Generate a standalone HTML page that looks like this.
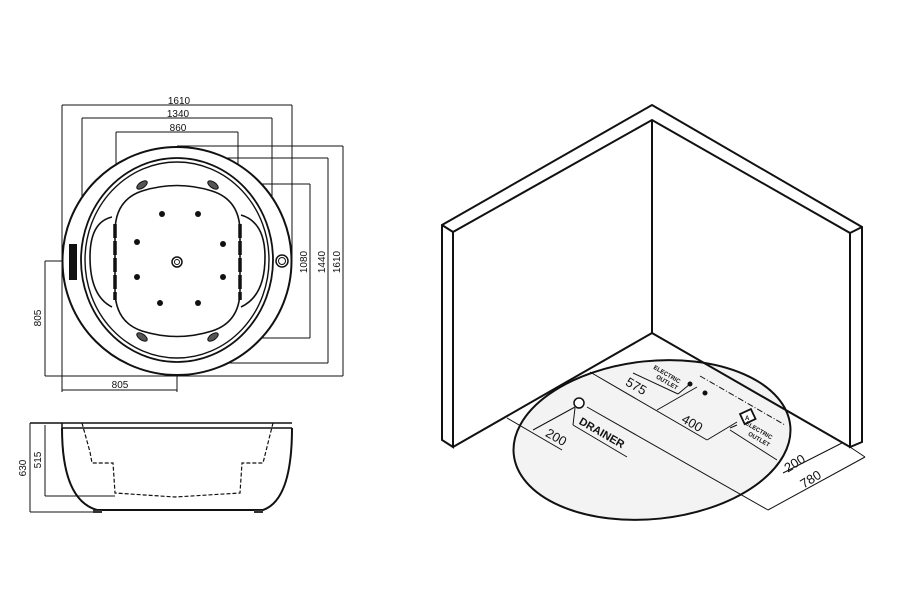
<!DOCTYPE html>
<html><head><meta charset="utf-8"><style>
html,body{margin:0;padding:0;background:#fff;}
svg{display:block}
text{font-family:"Liberation Sans",sans-serif;fill:#111;}
</style></head><body>
<svg width="900" height="600" viewBox="0 0 900 600" xmlns="http://www.w3.org/2000/svg">
<rect width="900" height="600" fill="#fff"/>

<!-- ===== TOP VIEW ===== -->
<g fill="none" stroke="#111" stroke-width="1">
  <line x1="62" y1="105" x2="292" y2="105"/>
  <line x1="62" y1="105" x2="62" y2="392"/>
  <line x1="292" y1="105" x2="292" y2="258"/>
  <line x1="82" y1="118" x2="272" y2="118"/>
  <line x1="82" y1="118" x2="82" y2="250"/>
  <line x1="272" y1="118" x2="272" y2="250"/>
  <line x1="116" y1="132" x2="238" y2="132"/>
  <line x1="116" y1="132" x2="116" y2="220"/>
  <line x1="238" y1="132" x2="238" y2="220"/>

  <line x1="177" y1="146" x2="343" y2="146"/>
  <line x1="343" y1="146" x2="343" y2="376"/>
  <line x1="210" y1="158" x2="328" y2="158"/>
  <line x1="328" y1="158" x2="328" y2="363"/>
  <line x1="210" y1="184" x2="310" y2="184"/>
  <line x1="310" y1="184" x2="310" y2="338"/>
  <line x1="210" y1="338" x2="310" y2="338"/>
  <line x1="200" y1="363" x2="328" y2="363"/>
  <line x1="45" y1="376" x2="343" y2="376"/>

  <line x1="45" y1="261" x2="177" y2="261"/>
  <line x1="45" y1="261" x2="45" y2="376"/>
  <line x1="62" y1="390" x2="177" y2="390"/>
  <line x1="177" y1="261" x2="177" y2="392"/>
</g>
<g fill="none" stroke="#111">
  <ellipse cx="177" cy="261" rx="114.5" ry="114" stroke-width="2" fill="#fff"/>
  <ellipse cx="177" cy="260" rx="96" ry="102" stroke-width="1.8"/>
  <ellipse cx="177" cy="260" rx="92" ry="98" stroke-width="1.4"/>
  <path d="M115,232 Q115,200 142,191 Q177,180 212,191 Q240,200 240,232 L240,290 Q240,322 212,331 Q177,342 142,331 Q115,322 115,290 Z" stroke-width="1.6" fill="#fff"/>
  <path d="M112,217 Q90,222 90,257 Q90,296 112,307" stroke-width="1.6"/>
  <path d="M241,215 Q265,222 265,257 Q265,296 241,307" stroke-width="1.6"/>
  <line x1="115" y1="224" x2="115" y2="300" stroke-width="3.5" stroke-dasharray="14,3"/>
  <line x1="240" y1="224" x2="240" y2="300" stroke-width="3.5" stroke-dasharray="14,3"/>
  <circle cx="177" cy="262" r="5" stroke-width="1.5" fill="#fff"/>
  <circle cx="177" cy="262" r="2.5" stroke-width="1"/>
  <circle cx="282" cy="261" r="6" stroke-width="1.5" fill="#fff"/>
  <circle cx="282" cy="261" r="3.5" stroke-width="1"/>
</g>
<rect x="69" y="244" width="8" height="36" fill="#111"/>
<g fill="#111">
  <circle cx="162" cy="214" r="3"/><circle cx="198" cy="214" r="3"/>
  <circle cx="137" cy="242" r="3"/><circle cx="223" cy="244" r="3"/>
  <circle cx="137" cy="277" r="3"/><circle cx="223" cy="277" r="3"/>
  <circle cx="160" cy="303" r="3"/><circle cx="198" cy="303" r="3"/>
</g>
<g fill="#555" stroke="#111" stroke-width="1">
  <ellipse cx="142" cy="185" rx="6" ry="3" transform="rotate(-35 142 185)"/>
  <ellipse cx="213" cy="185" rx="6" ry="3" transform="rotate(35 213 185)"/>
  <ellipse cx="142" cy="337" rx="6" ry="3" transform="rotate(35 142 337)"/>
  <ellipse cx="213" cy="337" rx="6" ry="3" transform="rotate(-35 213 337)"/>
</g>
<g font-size="10" text-anchor="middle">
  <text x="179" y="104">1610</text>
  <text x="178" y="117">1340</text>
  <text x="178" y="131">860</text>
  <text x="120" y="388">805</text>
  <text transform="translate(41,318) rotate(-90)">805</text>
  <text transform="translate(307,262) rotate(-90)">1080</text>
  <text transform="translate(325,262) rotate(-90)">1440</text>
  <text transform="translate(340,262) rotate(-90)">1610</text>
</g>

<!-- ===== SIDE VIEW ===== -->
<g fill="none" stroke="#111">
  <line x1="30" y1="423" x2="292" y2="423" stroke-width="1.5"/>
  <line x1="62" y1="428" x2="292" y2="428" stroke-width="1.5"/>
  <line x1="62" y1="423" x2="62" y2="428" stroke-width="1.5"/>
  <path d="M62,428 Q62,500 97,510 L263,510 Q292,500 292,428" stroke-width="2"/>
  <path d="M82,423 L90,452 L92,463 L113,463 L115,493 L175,497 L240,493 L242,463 L263,463 L267,447 L273,423" stroke-width="1.2" stroke-dasharray="4,2"/>
  <line x1="30" y1="423" x2="30" y2="512" stroke-width="1"/>
  <line x1="30" y1="512" x2="100" y2="512" stroke-width="1"/>
  <line x1="45" y1="425" x2="45" y2="496" stroke-width="1"/>
  <line x1="45" y1="496" x2="115" y2="496" stroke-width="1"/>
</g>
<rect x="93" y="510" width="9" height="3" fill="#333"/>
<rect x="254" y="510" width="9" height="3" fill="#333"/>
<g font-size="10" text-anchor="middle">
  <text transform="translate(26,468) rotate(-90)">630</text>
  <text transform="translate(41,460) rotate(-90)">515</text>
</g>

<!-- ===== ISOMETRIC ROOM ===== -->
<g fill="none" stroke="#111" stroke-width="2" stroke-linejoin="miter">
  <path d="M442,225 L652,105 L862,227 L862,442 L850,447 L850,233 L652,120 L453,232 L453,447 L442,440 Z" fill="#fff"/>
  <line x1="442" y1="225" x2="453" y2="232"/>
  <line x1="862" y1="227" x2="850" y2="233"/>
  <line x1="652" y1="120" x2="652" y2="333"/>
</g>
<ellipse cx="652" cy="440" rx="139" ry="79" transform="rotate(-6 652 440)" fill="#f3f3f3" stroke="#111" stroke-width="2"/>
<g fill="none" stroke="#111" stroke-width="2">
  <line x1="453" y1="447" x2="652" y2="333"/>
  <line x1="652" y1="333" x2="850" y2="447"/>
</g>
<g fill="none" stroke="#111" stroke-width="1">
  <line x1="590" y1="372" x2="707" y2="440"/>
  <line x1="657" y1="410" x2="697" y2="387"/>
  <line x1="707" y1="440" x2="737" y2="422"/>
  <line x1="633" y1="373" x2="678" y2="394"/>
  <line x1="678" y1="394" x2="690" y2="384"/>
  <line x1="700" y1="376" x2="785" y2="425" stroke-dasharray="6,2,1,2"/>
  <line x1="575" y1="408" x2="573" y2="425"/>
  <line x1="573" y1="425" x2="627" y2="457"/>
  <line x1="587" y1="407" x2="768" y2="510"/>
  <line x1="575" y1="407" x2="533" y2="430"/>
  <line x1="507" y1="418" x2="562" y2="450"/>
  <line x1="737" y1="425" x2="730" y2="428"/>
  <line x1="730" y1="430" x2="777" y2="460"/>
  <line x1="850" y1="447" x2="865" y2="457"/>
  <line x1="865" y1="457" x2="768" y2="510"/>
  <line x1="842" y1="443" x2="783" y2="473"/>
</g>
<circle cx="579" cy="403" r="5" fill="#fff" stroke="#111" stroke-width="1.5"/>
<circle cx="690" cy="384" r="2.5" fill="#111"/>
<circle cx="705" cy="393" r="2.5" fill="#111"/>
<rect x="742" y="411" width="12" height="11" fill="#fff" stroke="#111" stroke-width="1.8" transform="rotate(-25 748 417)"/>
<text x="745" y="420" font-size="6" font-weight="bold">A</text>
<g text-anchor="middle">
  <text font-size="13" transform="translate(634,390) rotate(30)">575</text>
  <text font-size="13" transform="translate(690,427) rotate(30)">400</text>
  <text font-size="13" transform="translate(554,441) rotate(30)">200</text>
  <text font-size="11" font-weight="bold" transform="translate(600,436) rotate(30)">DRAINER</text>
  <text font-size="6" font-weight="bold" transform="translate(666,376) rotate(30)">ELECTRIC</text>
  <text font-size="6" font-weight="bold" transform="translate(666,384) rotate(30)">OUTLET</text>
  <text font-size="6" font-weight="bold" transform="translate(758,432) rotate(30)">ELECTRIC</text>
  <text font-size="6" font-weight="bold" transform="translate(758,441) rotate(30)">OUTLET</text>
  <text font-size="13" transform="translate(797,467) rotate(-32)">200</text>
  <text font-size="13" transform="translate(813,483) rotate(-32)">780</text>
</g>
</svg>
</body></html>
